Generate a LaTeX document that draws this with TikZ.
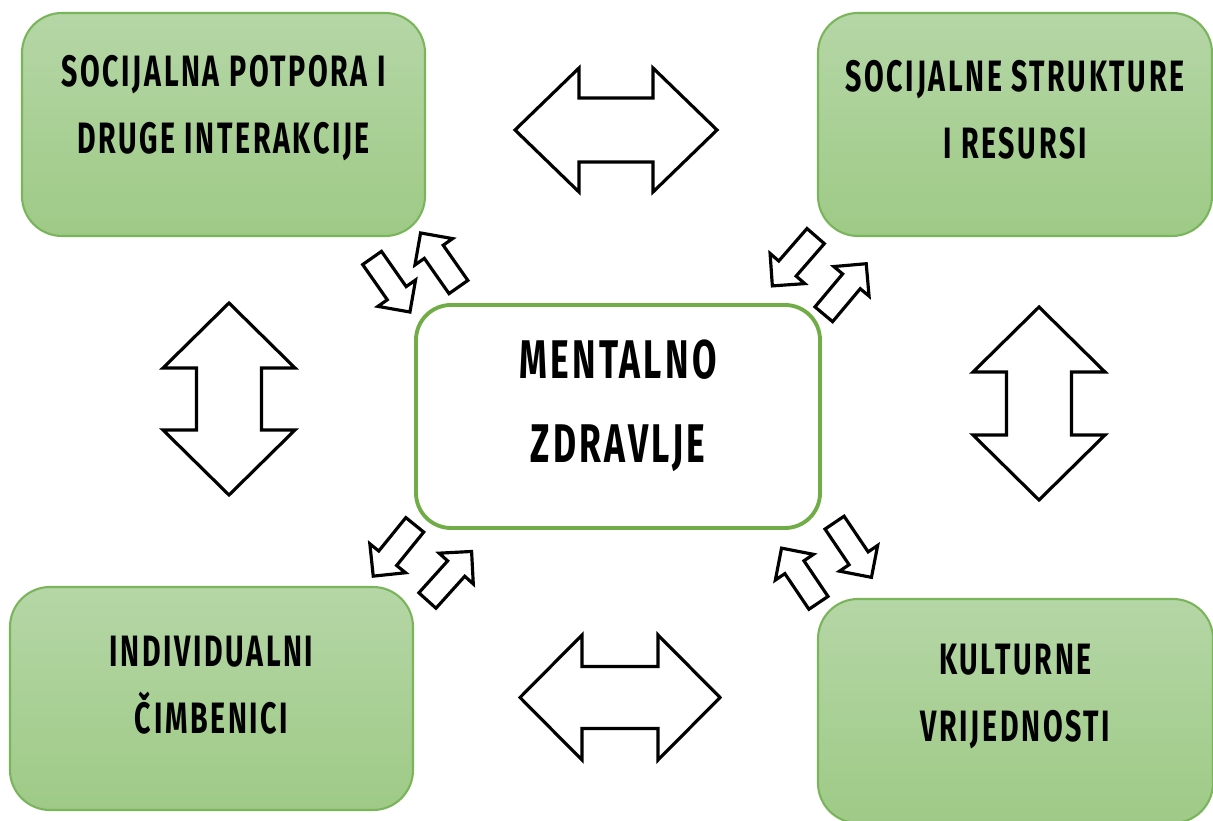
\documentclass[tikz,border=0pt]{standalone}
\usepackage{fontspec}
\usepackage{tikz}
\usetikzlibrary{positioning}
\newfontfamily\sketchfont{Fira Sans}[FakeStretch=0.65, LetterSpace=6]
\tikzset{greenbox/.style = {draw=mborder, line width=0.6pt, rounded corners=0.4cm,
                            top color=mgreentop, bottom color=mgreenbot,
                            minimum width=4.03cm, minimum height=2.23cm},
         centrebox/.style = {draw=mcentre, line width=1.1pt, rounded corners=0.35cm,
                             fill=white, minimum width=4.04cm, minimum height=2.23cm},
         boxtext/.style = {align=center, inner sep=0pt,
                           font=\sketchfont\bfseries\fontsize{12.5}{19}\selectfont},
         blockline/.style = {draw=black, line width=0.9pt, fill=white, line join=miter},
         pics/oneway/.style = {code = {
             \draw [blockline] (-0.33, 0.115) -- (0.10, 0.115) -- (0.10, 0.23) -- (0.33, 0)
                 -- (0.10, -0.23) -- (0.10, -0.115) -- (-0.33, -0.115) -- cycle;}},
         pics/twoway/.style n args = {4}{code = {
             \draw [blockline] ({-#1/2}, 0) -- ({-#1/2+#4}, {#2/2}) -- ({-#1/2+#4}, {#3/2})
                 -- ({#1/2-#4}, {#3/2}) -- ({#1/2-#4}, {#2/2}) -- ({#1/2}, 0)
                 -- ({#1/2-#4}, {-#2/2}) -- ({#1/2-#4}, {-#3/2}) -- ({-#1/2+#4}, {-#3/2})
                 -- ({-#1/2+#4}, {-#2/2}) -- cycle;}}}
\definecolor{mgreentop}{RGB}{181,214,166}
\definecolor{mgreenbot}{RGB}{158,202,134}
\definecolor{mborder}{RGB}{122,181,92}
\definecolor{mcentre}{RGB}{112,173,71}

\begin{document}
\begin{tikzpicture}
    \useasboundingbox (0, 0) rectangle (12.13, 8.2);

    \node [greenbox] (potpora) at (2.235, 6.955) {};
    \node [greenbox, minimum width=3.94cm] (strukture) at (10.15, 6.955) {};
    \node [centrebox] (mentalno) at (6.18, 4.035) {};
    \node [greenbox] (individualni) at (2.115, 1.215) {};
    \node [greenbox, minimum width=3.95cm, minimum height=2.24cm] (kulturne) at (10.155, 1.09) {};

    \node [boxtext] (potporatxt) at ([yshift=1.6mm]potpora.center) {SOCIJALNA POTPORA I\\DRUGE INTERAKCIJE};
    \node [boxtext] (strukturetxt) at ([yshift=1.45mm]strukture.center) {SOCIJALNE STRUKTURE\\I RESURSI};
    \node [boxtext, font=\sketchfont\bfseries\fontsize{15.5}{24}\selectfont] (mentalnotxt)
        at ([yshift=1.1mm]mentalno.center) {MENTALNO\\ZDRAVLJE};
    \node [boxtext] (individualnitxt) at ([yshift=1.35mm]individualni.center) {INDIVIDUALNI\\ČIMBENICI};
    \node [boxtext] (kulturnetxt) at ([yshift=1.45mm]kulturne.center) {KULTURNE\\VRIJEDNOSTI};

    \pic at (6.16, 6.90) {twoway={2.02}{1.24}{0.64}{0.64}};
    \pic at (6.20, 1.225) {twoway={2.00}{1.25}{0.62}{0.62}};
    \pic [rotate=90] at (2.29, 4.21) {twoway={1.92}{1.32}{0.65}{0.65}};
    \pic [rotate=90] at (10.39, 4.165) {twoway={1.93}{1.32}{0.65}{0.65}};

    \pic [rotate=-55] at (3.91, 5.35) {oneway};
    \pic [rotate=125] at (4.395, 5.60) {oneway};
    \pic [rotate=-131] at (7.94, 5.59) {oneway};
    \pic [rotate=50] at (8.45, 5.31) {oneway};
    \pic [rotate=-129] at (3.94, 2.695) {oneway};
    \pic [rotate=48] at (4.495, 2.44) {oneway};
    \pic [rotate=-56] at (8.53, 2.70) {oneway};
    \pic [rotate=124] at (8.00, 2.445) {oneway};
\end{tikzpicture}
\end{document}
